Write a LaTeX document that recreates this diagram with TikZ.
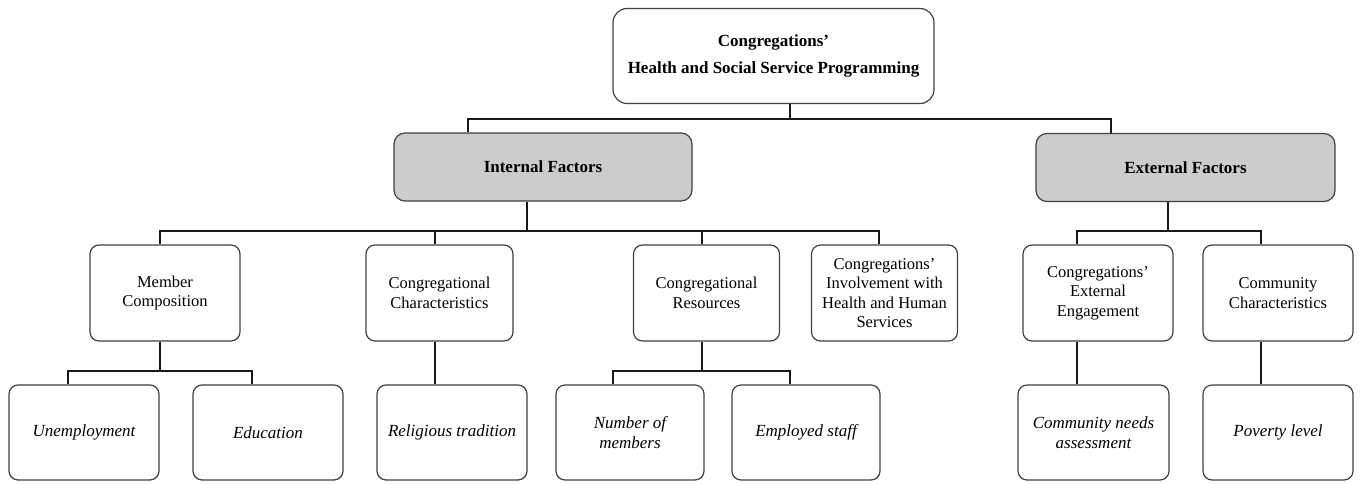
\documentclass[tikz,border=0pt]{standalone}
\usepackage{fontspec}
\setmainfont{Liberation Serif}
\begin{document}
\begin{tikzpicture}[x=1pt,y=-1pt,
  box/.style={draw=black!75, line width=1.2pt, rounded corners=9pt, fill=white,
    align=center, inner sep=2pt, font=\fontsize{16.5}{19.5}\selectfont},
  rowtwo/.style={box, minimum width=150pt, minimum height=96pt},
  leaf/.style={box, minimum width=150pt, minimum height=95pt,
    font=\fontsize{17}{19.5}\selectfont\itshape},
  factor/.style={box, fill=black!20, rounded corners=11pt, minimum height=68pt,
    font=\fontsize{17}{19.5}\selectfont\bfseries},
  conn/.style={draw=black!90, line width=1.5pt}]
\useasboundingbox (0,0) rectangle (1360,483);

% root
\node[box, rounded corners=14pt, minimum width=321pt, minimum height=95pt,
  font=\fontsize{17}{27}\selectfont\bfseries] (top) at (773.5,56)
  {Congregations'\\Health and Social Service Programming};

% factor groups
\node[factor, minimum width=298pt] (int) at (543,167) {Internal Factors};
\node[factor, minimum width=299pt] (ext) at (1185.5,167.5) {External Factors};

% second level
\node[rowtwo] (mem) at (165,293) {Member\\Composition};
\node[rowtwo, minimum width=147pt] (cch) at (439.5,293) {Congregational\\Characteristics};
\node[rowtwo, minimum width=146pt] (res) at (706.5,293) {Congregational\\Resources};
\node[rowtwo, minimum width=146pt] (inv) at (884.5,293) {Congregations'\\Involvement with\\Health and Human\\Services};
\node[rowtwo] (eng) at (1098,293) {Congregations{\char"0027}\\External\\Engagement};
\node[rowtwo] (cmc) at (1278,293) {Community\\Characteristics};

% third level
\node[leaf] (une) at (84,432.5) {Unemployment};
\node[leaf] (edu) at (268,432.5) {Education};
\node[leaf] (rel) at (452,432.5) {Religious tradition};
\node[leaf, minimum width=148pt] (num) at (630,432.5) {Number of\\members};
\node[leaf, minimum width=148pt] (emp) at (806,432.5) {Employed staff};
\node[leaf, minimum width=151pt] (cna) at (1093.5,432.5) {Community needs\\assessment};
\node[leaf] (pov) at (1278,432.5) {Poverty level};

% junction points
\coordinate (jT) at (790,119);
\coordinate (aI) at (468,119);
\coordinate (aE) at (1111,119);
\coordinate (bI) at (527,231);
\coordinate (b1) at (160,231);
\coordinate (b2) at (435,231);
\coordinate (b3) at (702,231);
\coordinate (b4) at (879,231);
\coordinate (e0) at (1168,231);
\coordinate (e1) at (1077,231);
\coordinate (e2) at (1261,231);
\coordinate (m0) at (160,371);
\coordinate (m1) at (68,371);
\coordinate (m2) at (252,371);
\coordinate (n0) at (702,371);
\coordinate (n1) at (613,371);
\coordinate (n2) at (790,371);

% root to factor groups
\draw[conn] (top.south -| jT) -- (jT);
\draw[conn] (int.north -| aI) -- (aI) -- (aE) -- (ext.north -| aE);

% internal factors
\draw[conn] (int.south -| bI) -- (bI);
\draw[conn] (mem.north -| b1) -- (b1) -- (b4) -- (inv.north -| b4);
\draw[conn] (cch.north -| b2) -- (b2);
\draw[conn] (res.north -| b3) -- (b3);

% external factors
\draw[conn] (ext.south -| e0) -- (e0);
\draw[conn] (eng.north -| e1) -- (e1) -- (e2) -- (cmc.north -| e2);

% measures
\draw[conn] (mem.south -| m0) -- (m0);
\draw[conn] (une.north -| m1) -- (m1) -- (m2) -- (edu.north -| m2);
\draw[conn] (cch.south -| b2) -- (rel.north -| b2);
\draw[conn] (res.south -| n0) -- (n0);
\draw[conn] (num.north -| n1) -- (n1) -- (n2) -- (emp.north -| n2);
\draw[conn] (eng.south -| e1) -- (cna.north -| e1);
\draw[conn] (cmc.south -| e2) -- (pov.north -| e2);
\end{tikzpicture}
\end{document}
